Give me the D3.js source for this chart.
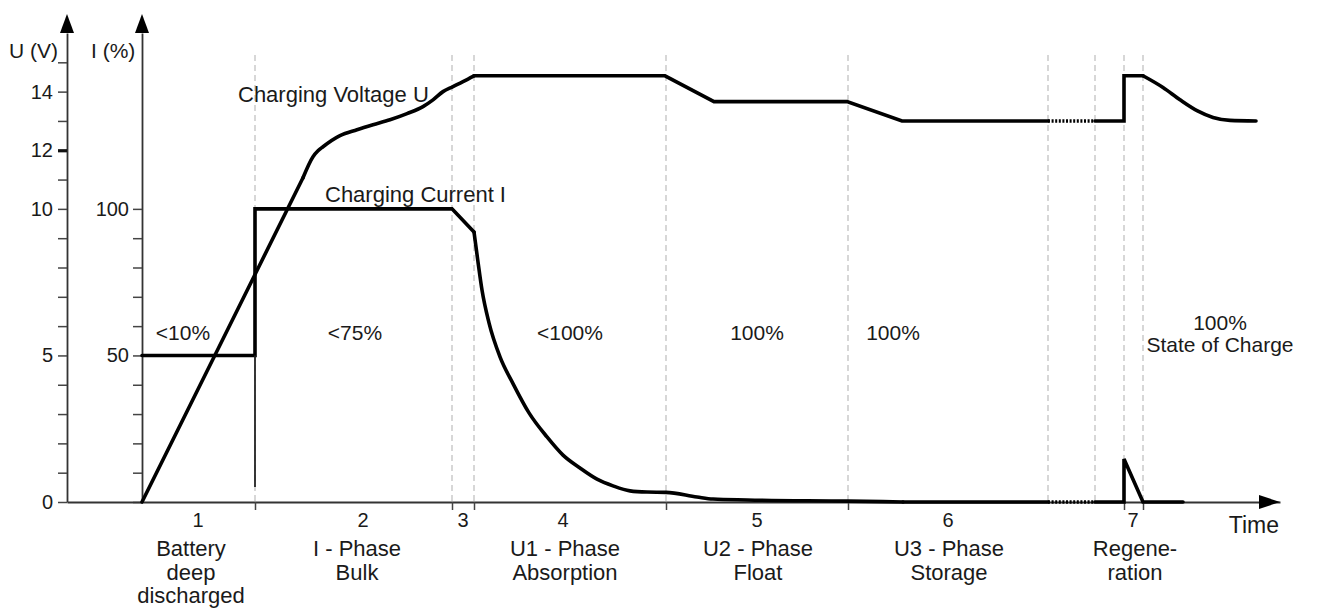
<!DOCTYPE html>
<html>
<head>
<meta charset="utf-8">
<script src="https://cdnjs.cloudflare.com/ajax/libs/d3/7.8.5/d3.min.js"></script>
<style>
    body { margin: 0; background: #fff; }
    svg { display: block; font-family: "Liberation Sans", Arial, sans-serif; }
</style>
</head>
<body>
<div id="chart"></div>
<script>
// phase boundaries on the time axis (arbitrary time units)
const phaseBounds = [11.3, 31.0, 33.2, 52.4, 70.6, 90.6, 95.3, 98.2, 100.1];
const boundTicks = [11.3, 31.0, 33.2, 52.4, 70.6, 98.2, 100.1];

const phaseNumbers = ['1', '2', '3', '4', '5', '6', '7'];
const phaseNumberPos = [5.6, 22.1, 32.1, 42.1, 61.5, 80.6, 99.1];
const phaseNames = [
    ['Battery', 'deep', 'discharged'],
    ['I - Phase', 'Bulk'],
    [],
    ['U1 - Phase', 'Absorption'],
    ['U2 - Phase', 'Float'],
    ['U3 - Phase', 'Storage'],
    ['Regene-', 'ration']
];
const phaseNamePos = [4.9, 21.5, 32.1, 42.3, 61.6, 80.7, 99.3];

const chargeLabels = ['<10%', '<75%', '<100%', '100%', '100%', '100%'];
const chargeLabelPos = [4.1, 21.3, 42.8, 61.5, 75.1, 107.8];

// axis ticks
const uTicks = d3.range(0, 16);
const uTickLabels = [0, 5, 10, 12, 14];
const iTicks = d3.range(0, 110, 10);
const iTickLabels = [50, 100];

// charging voltage U (V) over time
const voltage = [
    [0, 0], [16.1, 11.06], [17.1, 11.78], [17.6, 11.98], [18.1, 12.12], [19.8, 12.5],
    [21.5, 12.7], [23.1, 12.87], [24.8, 13.04], [26.5, 13.25], [28.1, 13.49],
    [29.1, 13.72], [30.1, 14.0], [31.1, 14.17], [32.1, 14.34], [33.2, 14.54],
    [52.3, 14.54], [57.2, 13.66], [70.5, 13.66], [76.0, 13.0], [90.6, 13.0],
    [95.3, 13.0], [98.2, 13.0], [98.2, 14.54], [100.1, 14.54],
    [102.1, 14.14], [103.8, 13.72], [105.5, 13.35], [107.1, 13.12], [108.8, 13.02],
    [111.4, 13.0]
];
// parts of the voltage curve that are drawn rounded
const voltageSmooth = [[16.1, 33.2], [100.1, 111.4]];

// charging current I (%) over time
const current = [
    [0, 50], [11.3, 50], [11.3, 100], [31.0, 100], [33.2, 92.1], [33.6, 81.9],
    [34.0, 72.3], [34.7, 61.1], [35.8, 49.5], [37.1, 40.4], [38.7, 30.4],
    [40.5, 22.2], [42.1, 16.0], [43.8, 11.6], [45.5, 7.8], [47.1, 5.5],
    [48.8, 3.8], [50.5, 3.4], [52.4, 3.3], [55.5, 1.7], [57.1, 1.0], [60.5, 0.7],
    [70.6, 0.3], [76.1, 0], [90.6, 0], [95.3, 0], [98.2, 0], [98.2, 14.7],
    [100.1, 0], [104.1, 0]
];
const currentSmooth = [[33.2, 76.1]];
// thin marker below the current step
const bulkMarker = [[11.3, 50], [11.3, 5.1]];

const width = 1320, height = 609;

const svg = d3.select('#chart')
    .append('svg')
    .attr('width', width)
    .attr('height', height);

// scales
const x = d3.scaleLinear().domain([-7.5, 113.8]).range([67, 1280]);
const yU = d3.scaleLinear().domain([0, 16]).range([502, 33]);
const yI = d3.scaleLinear().domain([0, 160]).range([502, 33]);

const gapStart = phaseBounds[5], gapEnd = phaseBounds[6];

// dashed phase boundaries
svg.append('g')
    .selectAll('line')
    .data(phaseBounds)
    .enter()
    .append('line')
    .attr('x1', d => x(d)).attr('x2', d => x(d))
    .attr('y1', 55).attr('y2', yU(0))
    .attr('stroke', '#bdbdbd')
    .attr('stroke-width', 1.2)
    .attr('stroke-dasharray', '6,4');

// axes
const uAxis = d3.axisLeft(yU)
    .tickValues(uTicks)
    .tickSize(9)
    .tickSizeOuter(0)
    .tickPadding(5)
    .tickFormat(d => uTickLabels.includes(d) ? d : '');

const iAxis = d3.axisLeft(yI)
    .tickValues(iTicks)
    .tickSize(9)
    .tickSizeOuter(0)
    .tickPadding(4)
    .tickFormat(d => iTickLabels.includes(d) ? d : '');

const tAxis = d3.axisBottom(x)
    .tickValues(boundTicks)
    .tickSize(8)
    .tickSizeOuter(0)
    .tickFormat('');

const uAxisG = svg.append('g')
    .attr('transform', 'translate(' + x(-7.5) + ',0)')
    .call(uAxis);
const iAxisG = svg.append('g')
    .attr('transform', 'translate(' + x(0) + ',0)')
    .call(iAxis);
const tAxisG = svg.append('g')
    .attr('transform', 'translate(0,' + yU(0) + ')')
    .call(tAxis);

[uAxisG, iAxisG, tAxisG].forEach(g => {
    g.select('.domain').attr('stroke', '#333').attr('stroke-width', 1.8);
    g.selectAll('.tick line').attr('stroke', '#444').attr('stroke-width', 1.5);
    g.selectAll('.tick text')
        .attr('fill', '#1a1a1a')
        .style('font-size', '20px')
        .style('font-family', '"Liberation Sans", Arial, sans-serif');
});
uAxisG.selectAll('.tick')
    .filter(d => d === 12)
    .select('line')
    .attr('stroke-width', 3.2)
    .attr('stroke', '#111');

// arrowheads
const arrowUp = (cx, tipY) => `M${cx},${tipY}L${cx - 7},${tipY + 19}L${cx + 7},${tipY + 19}Z`;
svg.append('path').attr('d', arrowUp(x(-7.5), 14)).attr('fill', '#000');
svg.append('path').attr('d', arrowUp(x(0), 14)).attr('fill', '#000');
svg.append('path')
    .attr('d', `M${x(113.8)},${yU(0)}L${x(113.8) - 21},${yU(0) - 7}L${x(113.8) - 21},${yU(0) + 7}Z`)
    .attr('fill', '#000');

// axis titles
svg.append('text').attr('x', 9).attr('y', 58).style('font-size', '21px').attr('fill', '#1a1a1a').text('U (V)');
svg.append('text').attr('x', 91).attr('y', 58).style('font-size', '21px').attr('fill', '#1a1a1a').text('I (%)');
svg.append('text').attr('x', 1279).attr('y', 533).attr('text-anchor', 'end')
    .style('font-size', '23px').attr('fill', '#1a1a1a').text('Time');

// split a series into runs of segments: straight, rounded or dotted
const pieces = (data, smooth) => {
    const out = [];
    for (let i = 0; i < data.length - 1; i++) {
        const a = data[i], b = data[i + 1];
        let kind = 'line';
        if (a[0] >= gapStart && b[0] <= gapEnd) kind = 'dot';
        else if (smooth.some(r => a[0] >= r[0] && b[0] <= r[1])) kind = 'smooth';
        const last = out[out.length - 1];
        if (last && last.kind === kind) last.pts.push(b);
        else out.push({ kind: kind, pts: [a, b] });
    }
    return out;
};

const drawSeries = (data, smooth, yScale) => {
    pieces(data, smooth).forEach(p => {
        const line = d3.line()
            .x(d => x(d[0]))
            .y(d => yScale(d[1]))
            .curve(p.kind === 'smooth' ? d3.curveMonotoneX : d3.curveLinear);
        svg.append('path')
            .datum(p.pts)
            .attr('d', line)
            .attr('fill', 'none')
            .attr('stroke', '#000')
            .attr('stroke-width', 3.6)
            .attr('stroke-linejoin', 'miter')
            .attr('stroke-linecap', p.kind === 'dot' ? 'butt' : 'round')
            .attr('stroke-dasharray', p.kind === 'dot' ? '2,1.6' : null);
    });
};

drawSeries(current, currentSmooth, yI);
drawSeries(voltage, voltageSmooth, yU);

svg.append('path')
    .datum(bulkMarker)
    .attr('d', d3.line().x(d => x(d[0])).y(d => yI(d[1])))
    .attr('stroke', '#222')
    .attr('stroke-width', 1.8);

// series labels
svg.append('text').attr('x', 238).attr('y', 102).style('font-size', '22px').attr('fill', '#1a1a1a')
    .text('Charging Voltage U');
svg.append('text').attr('x', 325).attr('y', 202).style('font-size', '22px').attr('fill', '#1a1a1a')
    .text('Charging Current I');

// state of charge labels
svg.append('g')
    .selectAll('text')
    .data(chargeLabels)
    .enter()
    .append('text')
    .attr('x', (d, i) => x(chargeLabelPos[i]))
    .attr('y', (d, i) => i === chargeLabels.length - 1 ? yI(55.3) - 10 : yI(55.3))
    .attr('text-anchor', 'middle')
    .style('font-size', '21px')
    .attr('fill', '#1a1a1a')
    .text(d => d);
svg.append('text')
    .attr('x', x(chargeLabelPos[chargeLabelPos.length - 1]))
    .attr('y', yI(55.3) + 12)
    .attr('text-anchor', 'middle')
    .style('font-size', '21px')
    .attr('fill', '#1a1a1a')
    .text('State of Charge');

// phase numbers and names
svg.append('g')
    .selectAll('text')
    .data(phaseNumbers)
    .enter()
    .append('text')
    .attr('x', (d, i) => x(phaseNumberPos[i]))
    .attr('y', yU(0) + 25)
    .attr('text-anchor', 'middle')
    .style('font-size', '20px')
    .attr('fill', '#1a1a1a')
    .text(d => d);

const nameG = svg.append('g');
phaseNames.forEach((lines, i) => {
    lines.forEach((txt, j) => {
        nameG.append('text')
            .attr('x', x(phaseNamePos[i]))
            .attr('y', yU(0) + 54 + j * 23.5)
            .attr('text-anchor', 'middle')
            .style('font-size', '22px')
            .attr('fill', '#1a1a1a')
            .text(txt);
    });
});
</script>
</body>
</html>
